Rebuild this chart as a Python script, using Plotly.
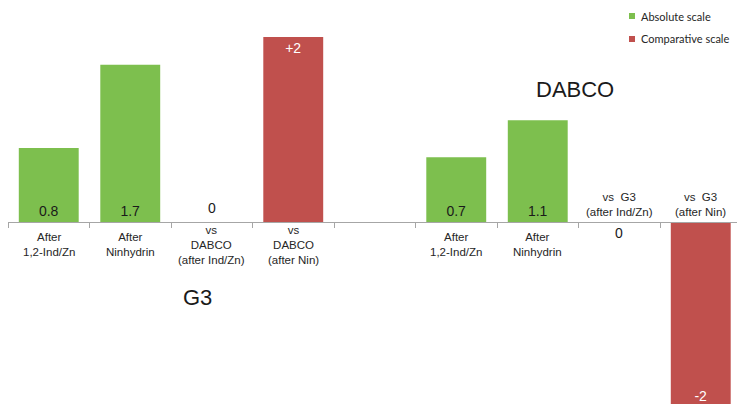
import plotly.graph_objects as go

# Reagent groups and their bar categories
groups = ["G3", "DABCO"]
group_categories = {
    "G3": ["After<br>1,2-Ind/Zn", "After<br>Ninhydrin",
           "vs<br>DABCO<br>(after Ind/Zn)", "vs<br>DABCO<br>(after Nin)"],
    "DABCO": ["After<br>1,2-Ind/Zn", "After<br>Ninhydrin",
              "vs\u00a0 G3<br>(after Ind/Zn)", "vs\u00a0 G3<br>(after Nin)"],
}
# Absolute scale scores (first two categories of each group)
absolute_scores = {"G3": [0.8, 1.7], "DABCO": [0.7, 1.1]}
# Comparative scale scores (last two categories of each group)
comparative_scores = {"G3": [0, 2], "DABCO": [0, -2]}

GREEN = "#7dbf4e"
RED = "#c0504d"
AXIS = "#a6a6a6"
FONT = "Liberation Sans, Arial, sans-serif"

# slot layout: 4 categories per group, one empty slot between groups
slots_per_group = 4
gap_slots = 1
def slot(g_index, c_index):
    return g_index * (slots_per_group + gap_slots) + c_index

abs_x, abs_y, abs_text = [], [], []
cmp_x, cmp_y, cmp_text = [], [], []
zero_labels = []
for gi, g in enumerate(groups):
    for ci, v in enumerate(absolute_scores[g]):
        abs_x.append(slot(gi, ci))
        abs_y.append(v)
        abs_text.append(f"{v:g}")
    n_abs = len(absolute_scores[g])
    for ci, v in enumerate(comparative_scores[g]):
        x = slot(gi, n_abs + ci)
        cmp_x.append(x)
        cmp_y.append(v)
        if v == 0:
            cmp_text.append("")
            zero_labels.append((gi, x, v))
        else:
            cmp_text.append(f"{v:+g}")

fig = go.Figure()
fig.add_trace(go.Bar(
    x=abs_x, y=abs_y, text=abs_text, name="Absolute scale",
    marker=dict(color=GREEN, line=dict(width=0)),
    width=0.735, textposition="inside", insidetextanchor="start",
    textangle=0, constraintext="none",
    insidetextfont=dict(family=FONT, size=14, color="#1a1a1a"),
    showlegend=False, hoverinfo="skip",
))
fig.add_trace(go.Bar(
    x=cmp_x, y=cmp_y, text=cmp_text, name="Comparative scale",
    marker=dict(color=RED, line=dict(width=0)),
    width=0.735, textposition="inside", insidetextanchor="end",
    textangle=0, constraintext="none",
    insidetextfont=dict(family=FONT, size=14, color="white"),
    showlegend=False, hoverinfo="skip",
))

# y range: zero line sits at 222 px of a 404 px plot
y_lo, y_hi = -1.968, 2.4
zero_frac = -y_lo / (y_hi - y_lo)
n_slots = len(groups) * slots_per_group + (len(groups) - 1) * gap_slots
x_lo = -0.5
x_hi = x_lo + 729 / 81.5

annotations = []
# category labels: below the axis, except comparative labels of a group
# whose comparative bars go negative, which sit above it
for gi, g in enumerate(groups):
    n_abs = len(absolute_scores[g])
    negative_group = min(comparative_scores[g]) < 0
    for ci, label in enumerate(group_categories[g]):
        above = negative_group and ci >= n_abs
        annotations.append(dict(
            x=slot(gi, ci), y=0, xref="x", yref="y", text=label,
            showarrow=False, yanchor="middle", xanchor="center",
            yshift=17 if above else -23,
            font=dict(family=FONT, size=11.5, color="#262626"),
        ))
# zero-valued comparative scores
for gi, x, v in zero_labels:
    above = min(comparative_scores[groups[gi]]) >= 0
    annotations.append(dict(
        x=x, y=v, xref="x", yref="y", text=f"{v:g}", showarrow=False,
        yanchor="middle", yshift=14 if above else -11,
        font=dict(family=FONT, size=14, color="#1a1a1a"),
    ))
# group titles
annotations.append(dict(x=1.82, y=-0.82, xref="x", yref="y", text="G3",
                        showarrow=False, font=dict(family=FONT, size=22, color="#1a1a1a")))
annotations.append(dict(x=6.46, y=1.43, xref="x", yref="y", text="DABCO",
                        showarrow=False, font=dict(family=FONT, size=22, color="#1a1a1a")))

# legend drawn as small squares with labels
legend_items = [("Absolute scale", GREEN), ("Comparative scale", RED)]
shapes = []
for i, (name, color) in enumerate(legend_items):
    cy = 16 + i * 23
    yc = 1 - cy / 404
    shapes.append(dict(type="rect", xref="paper", yref="paper",
                       x0=(629 - 8) / 729, x1=(635 - 8) / 729,
                       y0=yc - 3 / 404, y1=yc + 3 / 404,
                       fillcolor=color, line=dict(width=0)))
    annotations.append(dict(x=(639 - 8) / 729, y=yc, xref="paper", yref="paper",
                            text=name, showarrow=False, xanchor="left", yanchor="middle",
                            font=dict(family="Lato, sans-serif", size=11, color="#262626")))

fig.update_layout(
    width=737, height=404,
    margin=dict(l=8, r=0, t=0, b=0),
    paper_bgcolor="white", plot_bgcolor="white",
    barmode="overlay",
    xaxis=dict(range=[x_lo, x_hi], anchor="free", position=zero_frac,
               showline=True, linecolor=AXIS, linewidth=1,
               ticks="outside", ticklen=5, tickcolor=AXIS, tickwidth=1,
               tickvals=[i - 0.5 for i in range(n_slots + 1)],
               showticklabels=False, showgrid=False, zeroline=False),
    yaxis=dict(range=[y_lo, y_hi], visible=False, showgrid=False, zeroline=False),
    annotations=annotations, shapes=shapes,
)

fig.write_html("out.html")
